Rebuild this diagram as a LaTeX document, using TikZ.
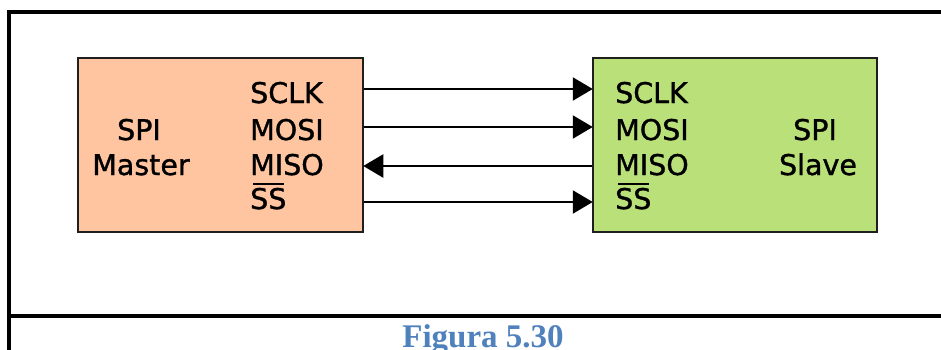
\documentclass[tikz,border=0pt]{standalone}
\usepackage{fontspec}
\usetikzlibrary{arrows.meta}
\newfontfamily\sigfont[FakeBold=1.2]{DejaVu Sans}
\newfontfamily\capfont{Liberation Serif}
\definecolor{masterfill}{RGB}{255,196,160}
\definecolor{slavefill}{RGB}{186,224,122}
\definecolor{capblue}{RGB}{79,129,189}
\begin{document}
\begin{tikzpicture}[x=1pt,y=-1pt,
  frame/.style={line width=3.5pt, line cap=rect},
  unit/.style={draw=black!88, line width=2.5pt, minimum height=174pt, inner sep=0pt},
  lab/.style={font=\sigfont\fontsize{28.5}{28.5}\selectfont, inner sep=0pt},
  sig/.style={line width=2.3pt, -{Triangle[length=20pt,width=23pt]}, shorten >=-1pt},
  bar/.style={line width=2.2pt}
]
\useasboundingbox (0,0) rectangle (941,349);
\fill[white] (0,0) rectangle (941,349);

% page frame lines
\draw[frame] (941,12) -- (9,12) -- (9,349);
\draw[frame] (9,316) -- (941,316);

% the two devices
\node[unit, fill=masterfill, minimum width=285pt] (master) at (220.5,145) {};
\node[unit, fill=slavefill, minimum width=284pt] (slave) at (735,145) {};

% master labels
\node[lab, anchor=base] (mname1) at (139,140) {SPI};
\node[lab, anchor=base] (mname2) at (141,175) {Master};
\node[lab, anchor=base west] (msclk) at (250,103) {SCLK};
\node[lab, anchor=base west] (mmosi) at (250,140) {MOSI};
\node[lab, anchor=base west] (mmiso) at (250,175) {MISO};
\node[lab, anchor=base west] (mss) at (250,209) {SS};
\draw[bar] ([xshift=3pt,yshift=4pt]mss.north west) -- ([xshift=-3pt,yshift=4pt]mss.north east);

% slave labels
\node[lab, anchor=base] (sname1) at (815,140) {SPI};
\node[lab, anchor=base] (sname2) at (818,175) {Slave};
\node[lab, anchor=base west] (ssclk) at (615,103) {SCLK};
\node[lab, anchor=base west] (smosi) at (615,140) {MOSI};
\node[lab, anchor=base west] (smiso) at (615,175) {MISO};
\node[lab, anchor=base west] (sss) at (615,209) {SS};
\draw[bar] ([xshift=3pt,yshift=4pt]sss.north west) -- ([xshift=-3pt,yshift=4pt]sss.north east);

% signal rows
\coordinate (r1) at (0,89);
\coordinate (r2) at (0,127);
\coordinate (r3) at (0,166);
\coordinate (r4) at (0,202);

\draw[sig] (master.east |- r1) -- (slave.west |- r1);
\draw[sig] (master.east |- r2) -- (slave.west |- r2);
\draw[sig] (slave.west |- r3) -- (master.east |- r3);
\draw[sig] (master.east |- r4) -- (slave.west |- r4);

% caption
\node[font=\capfont\bfseries\fontsize{33}{33}\selectfont, text=capblue, anchor=base, inner sep=0pt] (cap) at (483,347.5) {Figura 5.30};
\end{tikzpicture}
\end{document}
